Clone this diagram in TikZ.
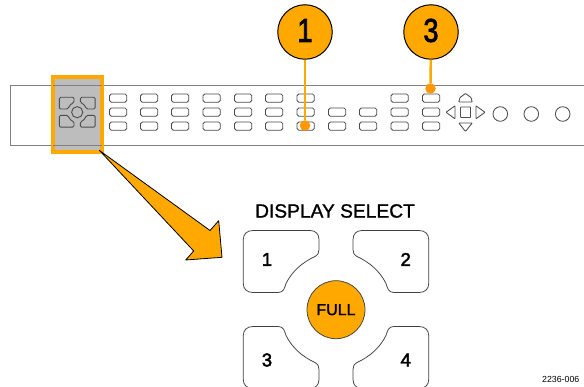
\documentclass[tikz,border=0pt]{standalone}
\usepackage{fontspec}
\setmainfont{Liberation Sans}
\newfontfamily\heavy[FakeBold=1.2]{Liberation Sans}
\newfontfamily\heavier[FakeBold=2.5]{Liberation Sans}
\definecolor{amber}{HTML}{FFA800}
\definecolor{panelgray}{HTML}{BDBDBD}
\definecolor{linegray}{HTML}{808080}
\tikzset{
  smallkey/.style={draw=black!70,line width=0.85pt,rounded corners=1.7pt,fill=white},
  knob/.style={draw=black!70,line width=0.85pt,fill=white},
  callout/.style={circle,draw=black,line width=1pt,fill=amber,minimum size=54.5pt,inner sep=0pt},
  calloutnum/.style={font=\fontsize{33}{33}\heavier,xscale=0.82},
  leader/.style={draw=amber,line width=2.4pt},
  dotend/.style={circle,fill=amber!90!red,inner sep=0pt,minimum size=10.5pt},
  bigkey/.style={draw=black!75,line width=0.75pt,fill=white},
  keylabel/.style={font=\fontsize{18.5}{18.5}\heavier},
}
\begin{document}
\begin{tikzpicture}[x=1pt,y=-1pt]
\useasboundingbox (0,0) rectangle (584,387);
\clip (0,0) rectangle (584,387);
% panel
\draw[linegray,line width=0.9pt] (584,85) -- (10,85) -- (10,145) -- (584,145);
% highlighted group
\draw[amber,line width=4pt,fill=panelgray] (53,77) rectangle (101.5,152.5);
\draw[linegray,line width=0.9pt] (53,85) -- (101.5,85) (53,145) -- (101.5,145);
% mini quad keys
\foreach \sx/\sy in {1/1,-1/1,1/-1,-1/-1}{
  \begin{scope}[shift={(77.2,112.2)},xscale=\sx,yscale=\sy]
    \draw[black!70,line width=0.9pt,rounded corners=1.3pt] (-17.9,-14.9) -- (-3.2,-14.9) -- (-3.2,-9.6) .. controls (-6,-8.5) and (-8,-6.5) .. (-9.2,-3.2) -- (-17.9,-3.2) -- cycle;
  \end{scope}
}
\draw[black!70,line width=0.9pt] (77.2,112.2) circle[radius=5.6];
% small keys
\foreach \x in {109.5,140.5,171.5,203,234.5,265.5,297,391,422.5}
  \foreach \y in {94,108,122}
    \draw[smallkey] (\x,\y) rectangle +(17.3,8.2);
\foreach \x in {328.5,359.5}
  \foreach \y in {108,122}
    \draw[smallkey] (\x,\y) rectangle +(17.3,8.2);
% navigation cluster
\draw[knob,rounded corners=0.6pt] (458.8,102) -- (460,97.5) -- (465.5,93.5) -- (471,97.5) -- (472.2,102) -- cycle;
\draw[knob,rounded corners=0.6pt] (458.8,123) -- (472.2,123) -- (465.5,131.5) -- cycle;
\draw[knob,rounded corners=0.6pt] (455,105.8) -- (455,118.8) -- (446,112.3) -- cycle;
\draw[knob,rounded corners=0.6pt] (476,105.8) -- (476,118.8) -- (485,112.3) -- cycle;
\draw[knob,rounded corners=0.6pt] (460.5,107) rectangle (470.5,117.5);
\draw[knob] (500.3,114) circle[radius=7.3];
\draw[knob] (531.3,114) circle[radius=7.3];
\draw[knob] (562.7,114) circle[radius=7.3];
% callouts
\node[callout] (c1) at (305,32) {};
\node[callout] (c3) at (431,32) {};
\node[calloutnum] (n1) at (305,30.5) {1};
\node[calloutnum] (n3) at (431,30.5) {3};
\node[dotend] (d1) at (305,125.5) {};
\node[dotend] (d3) at (430.5,88.5) {};
\draw[leader] (c1) -- (d1);
\draw[leader] (c3) -- (d3);
% big arrow
\draw[fill=amber,draw=black,line width=0.8pt,line join=round] (99.5,150.5) -- (210,230.5) -- (218.7,220.7) -- (222,257.3) -- (185.7,260) -- (193.7,251) -- cycle;
% title
\node[font=\fontsize{19.2}{19.2}\heavy] (title) at (335,211) {DISPLAY SELECT};
% big keys
\foreach \sx/\sy in {1/1,-1/1,1/-1,-1/-1}{
  \begin{scope}[shift={(336,309.5)},xscale=\sx,yscale=\sy]
    \draw[bigkey] (-83,-79) -- (-26,-79) .. controls (-20.5,-79) and (-17,-75.5) .. (-17,-70) -- (-17,-60) .. controls (-17,-56.5) and (-18,-55) .. (-21,-53) .. controls (-34,-47) and (-44,-38) .. (-50,-26) .. controls (-51.5,-21) and (-52.5,-17) .. (-58,-17) -- (-83,-17) .. controls (-89,-17) and (-92.7,-20.5) .. (-92.7,-26) -- (-92.7,-70) .. controls (-92.7,-75.5) and (-89,-79) .. (-83,-79) -- cycle;
  \end{scope}
}
\node[keylabel] (k1) at (267,259.5) {1};
\node[keylabel] (k2) at (405.7,259.5) {2};
\node[keylabel] (k3) at (267,360) {3};
\node[keylabel] (k4) at (405.7,360) {4};
\node[circle,draw=black!75,line width=0.75pt,fill=amber,minimum size=58pt,inner sep=0pt,font=\fontsize{16}{16}\heavy] (full) at (336,309.7) {FULL};
\node[font=\fontsize{8.8}{8.8}\selectfont,anchor=east,inner sep=0pt] (ref) at (579.5,379.7) {2236-006};
\end{tikzpicture}
\end{document}
